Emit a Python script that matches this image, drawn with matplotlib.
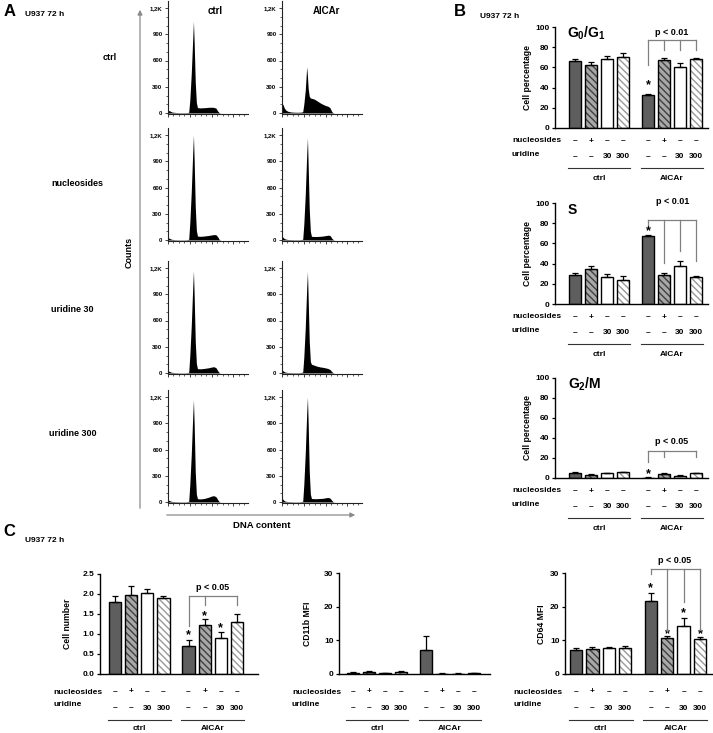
import numpy as np
import matplotlib
matplotlib.use('Agg')
import matplotlib.pyplot as plt
from matplotlib.transforms import blended_transform_factory, offset_copy

plt.rcParams['font.family'] = ['Liberation Sans', 'DejaVu Sans']
plt.rcParams['mathtext.fontset'] = 'custom'
plt.rcParams['mathtext.rm'] = 'Liberation Sans:bold'
plt.rcParams['mathtext.bf'] = 'Liberation Sans:bold'
plt.rcParams['mathtext.it'] = 'Liberation Sans:bold'
plt.rcParams['mathtext.default'] = 'bf'
plt.rcParams['hatch.linewidth'] = 1.0

# ---------------- data ----------------
hist_channels = [0, 15, 30, 50, 80, 120, 170, 220, 260, 285, 300, 320, 340, 350, 360, 375,
                 390, 405, 440, 480, 520, 560, 600, 630, 660, 685, 705, 730, 800, 900, 1000, 1100]
counts_ctrl_ctrl = [25, 28, 22, 12, 8, 5, 4, 4, 5, 8, 150, 450, 850, 1050, 800, 350,
                    120, 62, 58, 60, 62, 65, 66, 64, 55, 20, 3, 0, 0, 0, 0, 0]
counts_ctrl_aicar = [105, 95, 60, 35, 20, 12, 9, 8, 10, 14, 100, 260, 530, 420, 280, 190,
                     172, 168, 160, 140, 118, 100, 85, 78, 60, 15, 2, 0, 0, 0, 0, 0]
counts_nuc_ctrl = [20, 22, 15, 8, 5, 4, 3, 3, 4, 8, 200, 550, 1000, 1200, 900, 380,
                   110, 45, 42, 44, 48, 52, 58, 62, 60, 35, 5, 0, 0, 0, 0, 0]
counts_nuc_aicar = [40, 30, 18, 10, 6, 5, 4, 4, 5, 8, 180, 520, 980, 1170, 850, 350,
                    100, 42, 40, 40, 42, 45, 50, 55, 52, 20, 3, 0, 0, 0, 0, 0]
counts_u30_ctrl = [22, 20, 14, 8, 5, 4, 3, 3, 4, 8, 200, 540, 980, 1170, 880, 360,
                   110, 50, 48, 50, 55, 60, 68, 72, 60, 25, 3, 0, 0, 0, 0, 0]
counts_u30_aicar = [35, 25, 15, 9, 6, 5, 4, 4, 6, 10, 180, 520, 980, 1160, 850, 360,
                    130, 100, 90, 78, 70, 65, 58, 52, 40, 15, 2, 0, 0, 0, 0, 0]
counts_u300_ctrl = [20, 18, 12, 7, 5, 4, 3, 3, 4, 8, 200, 540, 980, 1170, 880, 340,
                    90, 38, 35, 38, 45, 55, 68, 72, 60, 25, 3, 0, 0, 0, 0, 0]
counts_u300_aicar = [40, 30, 15, 8, 5, 4, 3, 3, 4, 8, 200, 560, 1020, 1200, 900, 350,
                     90, 40, 38, 38, 40, 42, 48, 52, 45, 18, 2, 0, 0, 0, 0, 0]
hist_row_labels = ['ctrl', 'nucleosides', 'uridine 30', 'uridine 300']
hist_col_labels = ['ctrl', 'AICAr']
hist_ytick_values = [0, 300, 600, 900, 1200]
hist_ytick_labels = ['0', '300', '600', '900', '1,2K']

nucleosides_signs = ['–', '+', '–', '–']
uridine_labels = ['–', '–', '30', '300']
groups = ['ctrl', 'AICAr']

g0g1_mean = [66, 62, 68.5, 70.5, 33, 67.5, 60.5, 68]
g0g1_err = [2, 3, 3, 3.5, 1, 1.5, 4, 1.5]
s_mean = [28.5, 34.5, 26.5, 23.5, 67, 29, 38, 27]
s_err = [2.5, 3.5, 3.5, 4, 1, 1.5, 5, 1]
g2m_mean = [5, 3.3, 5, 5.6, 0.4, 4.2, 2.2, 5]
g2m_err = [0.8, 0.8, 0.5, 0.8, 0.3, 0.8, 0.8, 0.5]
cell_mean = [1.79, 1.98, 2.02, 1.89, 0.69, 1.22, 0.90, 1.30]
cell_err = [0.16, 0.22, 0.10, 0.07, 0.15, 0.15, 0.15, 0.20]
cd11b_mean = [0.3, 0.5, 0.3, 0.6, 7.2, 0.1, 0.1, 0.3]
cd11b_err = [0.3, 0.3, 0.1, 0.3, 4.1, 0.05, 0.05, 0.1]
cd64_mean = [7.0, 7.5, 7.7, 7.8, 21.7, 10.6, 14.3, 10.4]
cd64_err = [0.6, 0.5, 0.3, 0.4, 2.4, 0.6, 2.3, 0.7]

# ---------------- figure helpers ----------------
W, H = 713, 733
fig = plt.figure(figsize=(W / 100, H / 100), dpi=100)
overlay = fig.add_axes([0, 0, 1, 1])
overlay.set_xlim(0, W)
overlay.set_ylim(H, 0)
overlay.axis('off')
overlay.patch.set_visible(False)


def px_axes(l, t, r, b):
    return fig.add_axes([l / W, 1 - b / H, (r - l) / W, (b - t) / H])


def ptext(x, y, s, **kw):
    kw.setdefault('fontweight', 'bold')
    overlay.text(x, y, s, **kw)


# ---------------- panel A ----------------
ptext(4, 12, 'A', fontsize=12, ha='left', va='center')
ptext(25, 15, 'U937 72 h', fontsize=6, ha='left', va='center')

hist_sets = [[counts_ctrl_ctrl, counts_ctrl_aicar],
             [counts_nuc_ctrl, counts_nuc_aicar],
             [counts_u30_ctrl, counts_u30_aicar],
             [counts_u300_ctrl, counts_u300_aicar]]
row_zero_y = [113, 240, 373, 502]
col_left = [168, 282]
ppc = 105 / 1200.0
for r in range(4):
    for c in range(2):
        y0 = row_zero_y[r]
        l = col_left[c]
        ax = px_axes(l, y0 - 1280 * ppc, l + 80, y0 + 12 * ppc)
        ax.set_xlim(0, 1100)
        ax.set_ylim(-12, 1280)
        ax.fill_between(hist_channels, 0, hist_sets[r][c], color='black', lw=0)
        for s in ['top', 'right']:
            ax.spines[s].set_visible(False)
        for s in ['left', 'bottom']:
            ax.spines[s].set_linewidth(0.8)
            ax.spines[s].set_color('#222222')
        ax.set_yticks(hist_ytick_values)
        ax.set_yticklabels(hist_ytick_labels, fontsize=4.3, fontweight='bold')
        ax.set_yticks(np.arange(0, 1201, 100), minor=True)
        ax.set_xticks(np.arange(0, 1101, 300))
        ax.set_xticklabels([])
        ax.set_xticks(np.arange(0, 1101, 75), minor=True)
        ax.tick_params(axis='both', which='major', length=2.5, width=0.6, pad=1.5, color='#222222')
        ax.tick_params(axis='both', which='minor', length=1.3, width=0.5, color='#222222')
        ax.patch.set_visible(False)

ptext(215, 11, hist_col_labels[0], fontsize=7, ha='center', va='center')
ptext(326, 11, hist_col_labels[1], fontsize=7, ha='center', va='center')
row_label_x = [110, 77, 72, 73]
row_label_y = [58, 183, 309, 433]
for lab, x, y in zip(hist_row_labels, row_label_x, row_label_y):
    ptext(x, y, lab, fontsize=6.5, ha='center', va='center')

overlay.annotate('', xy=(140, 7), xytext=(140, 511),
                 arrowprops=dict(arrowstyle='-|>', color='#8a8a8a', lw=0.9, mutation_scale=7))
overlay.annotate('', xy=(358, 515), xytext=(164, 515),
                 arrowprops=dict(arrowstyle='-|>', color='#8a8a8a', lw=0.9, mutation_scale=7))
ptext(129, 252, 'Counts', fontsize=6.5, rotation=90, ha='center', va='center')
ptext(262, 525, 'DNA content', fontsize=6.8, ha='center', va='center')

# ---------------- bar helpers ----------------
pos = np.r_[np.arange(4), np.arange(4) + 4.55]
bar_styles = [dict(face='#5e5e5e', hatch=None, hc='#5e5e5e'),
              dict(face='#a8a8a8', hatch='\\' * 5, hc='#404040'),
              dict(face='white', hatch=None, hc='white'),
              dict(face='white', hatch='\\' * 5, hc='#9a9a9a')]


def bar_panel(box, xlim, ylim, yticks, ytick_labels, means, errs):
    ax = px_axes(*box)
    for i, (p, m) in enumerate(zip(pos, means)):
        st = bar_styles[i % 4]
        ax.bar(p, m, width=0.75, color=st['face'], hatch=st['hatch'],
               edgecolor=st['hc'], linewidth=0, zorder=2)
        ax.bar(p, m, width=0.75, facecolor='none', edgecolor='black', linewidth=1.0, zorder=3)
    ax.errorbar(pos, means, yerr=[np.zeros(len(means)), errs], fmt='none', ecolor='black',
                elinewidth=0.9, capsize=2.2, capthick=0.9, zorder=4)
    ax.set_xlim(*xlim)
    ax.set_ylim(*ylim)
    for s in ['top', 'right']:
        ax.spines[s].set_visible(False)
    for s in ['left', 'bottom']:
        ax.spines[s].set_linewidth(1.0)
    ax.spines['bottom'].set_zorder(5)
    ax.set_xticks([])
    ax.set_yticks(yticks)
    ax.set_yticklabels(ytick_labels, fontsize=6, fontweight='bold')
    ax.tick_params(axis='y', length=2.5, width=0.9, pad=1.5)
    ax.patch.set_visible(False)
    return ax


def condition_rows(ax, box, label_x, offs):
    tr = blended_transform_factory(ax.transData, overlay.transData)
    yb = box[3]
    y_nuc, y_uri, y_line, y_grp = [yb + o for o in offs]
    for p, s in zip(pos, nucleosides_signs * 2):
        ax.text(p, y_nuc, s, transform=tr, ha='center', va='center', fontsize=6, fontweight='bold')
    for p, s in zip(pos, uridine_labels * 2):
        ax.text(p, y_uri, s, transform=tr, ha='center', va='center', fontsize=6, fontweight='bold')
    ptext(label_x, y_nuc, 'nucleosides', fontsize=6, ha='left', va='center')
    ptext(label_x, y_uri - 3, 'uridine', fontsize=6, ha='left', va='center')
    for g in range(2):
        a, b = pos[4 * g] - 0.45, pos[4 * g + 3] + 0.45
        ax.plot([a, b], [y_line, y_line], transform=tr, color='#333333', lw=0.8, clip_on=False)
        ax.text((pos[4 * g] + pos[4 * g + 3]) / 2, y_grp, groups[g], transform=tr,
                ha='center', va='center', fontsize=6, fontweight='bold')


def bracket(ax, top, left_end, drops, ptxt, ptxt_x, ptxt_y):
    kw = dict(color='#808080', lw=0.9, clip_on=False, zorder=6)
    x0 = pos[4]
    x1 = pos[max(i for i, _ in drops)]
    ax.plot([x0, x1], [top, top], **kw)
    ax.plot([x0, x0], [top, left_end], **kw)
    for i, e in drops:
        ax.plot([pos[i], pos[i]], [top, e], **kw)
    ax.text(ptxt_x, ptxt_y, ptxt, ha='center', va='center', fontsize=6.5,
            fontweight='bold', clip_on=False)


def stars(ax, items):
    tr = offset_copy(ax.transData, fig=fig, y=-3, units='dots')
    for i, y in items:
        ax.text(pos[i], y, '*', transform=tr, ha='center', va='center', fontsize=9,
                fontweight='bold', clip_on=False)


# ---------------- panel B ----------------
ptext(454, 12, 'B', fontsize=12, ha='left', va='center')
ptext(480, 16, 'U937 72 h', fontsize=6, ha='left', va='center')
pct_ticks = [0, 20, 40, 60, 80, 100]
pct_labels = [str(t) for t in pct_ticks]
b_xlim = (-1.25, 8.3)
b_offs = (13, 29, 40, 50)

box = (555, 27, 708, 128)
ax = bar_panel(box, b_xlim, (0, 100), pct_ticks, pct_labels, g0g1_mean, g0g1_err)
condition_rows(ax, box, 512, b_offs)
bracket(ax, 87, 62, [(5, 77), (6, 77), (7, 77)], 'p < 0.01', 6.05, 95)
stars(ax, [(4, 45.5)])
ptext(567, 33, r'G$_0$/G$_1$', fontsize=10, ha='left', va='center')
ptext(527, 77, 'Cell percentage', fontsize=6.2, rotation=90, ha='center', va='center')

box = (555, 203, 708, 304)
ax = bar_panel(box, b_xlim, (0, 100), pct_ticks, pct_labels, s_mean, s_err)
condition_rows(ax, box, 512, b_offs)
bracket(ax, 83.5, 78, [(5, 40.5), (6, 52), (7, 43)], 'p < 0.01', 6.1, 101)
stars(ax, [(4, 75)])
ptext(568, 210, 'S', fontsize=10, ha='left', va='center')
ptext(527, 253, 'Cell percentage', fontsize=6.2, rotation=90, ha='center', va='center')

box = (555, 378, 708, 478)
ax = bar_panel(box, b_xlim, (0, 100), pct_ticks, pct_labels, g2m_mean, g2m_err)
condition_rows(ax, box, 512, b_offs)
bracket(ax, 27, 16.5, [(5, 21.5), (7, 21.5)], 'p < 0.05', 6.05, 36)
stars(ax, [(4, 6.5)])
ptext(568, 384, r'G$_2$/M', fontsize=10, ha='left', va='center')
ptext(527, 428, 'Cell percentage', fontsize=6.2, rotation=90, ha='center', va='center')

# ---------------- panel C ----------------
ptext(3, 531, 'C', fontsize=12, ha='left', va='center')
ptext(25, 541, 'U937 72 h', fontsize=6, ha='left', va='center')
c_offs = (18, 34, 46, 55)

box = (100, 574, 258, 674)
ax = bar_panel(box, (-0.93, 8.85), (0, 2.5), [0, 0.5, 1.0, 1.5, 2.0, 2.5],
               ['0.0', '0.5', '1.0', '1.5', '2.0', '2.5'], cell_mean, cell_err)
condition_rows(ax, box, 53, c_offs)
bracket(ax, 1.96, 1.19, [(5, 1.73), (7, 1.73)], 'p < 0.05', 6.06, 2.17)
stars(ax, [(4, 1.04), (5, 1.52), (6, 1.23)])
ptext(67, 624, 'Cell number', fontsize=6.2, rotation=90, ha='center', va='center')

box = (339, 573, 490, 674)
ax = bar_panel(box, (-0.875, 8.55), (0, 30), [0, 10, 20, 30], ['0', '10', '20', '30'],
               cd11b_mean, cd11b_err)
condition_rows(ax, box, 292, c_offs)
ptext(308, 624, 'CD11b MFI', fontsize=6.2, rotation=90, ha='center', va='center')

box = (565, 573, 712, 674)
ax = bar_panel(box, (-0.67, 8.28), (0, 30), [0, 10, 20, 30], ['0', '10', '20', '30'],
               cd64_mean, cd64_err)
condition_rows(ax, box, 513, c_offs)
bracket(ax, 31.3, 29.6, [(5, 12.9), (6, 21.5), (7, 13.0)], 'p < 0.05', 6.0, 33.6)
stars(ax, [(4, 26.4), (5, 12.6), (6, 19.0), (7, 12.6)])
ptext(542, 624, 'CD64 MFI', fontsize=6.2, rotation=90, ha='center', va='center')

fig.savefig('out.png', dpi=100)
